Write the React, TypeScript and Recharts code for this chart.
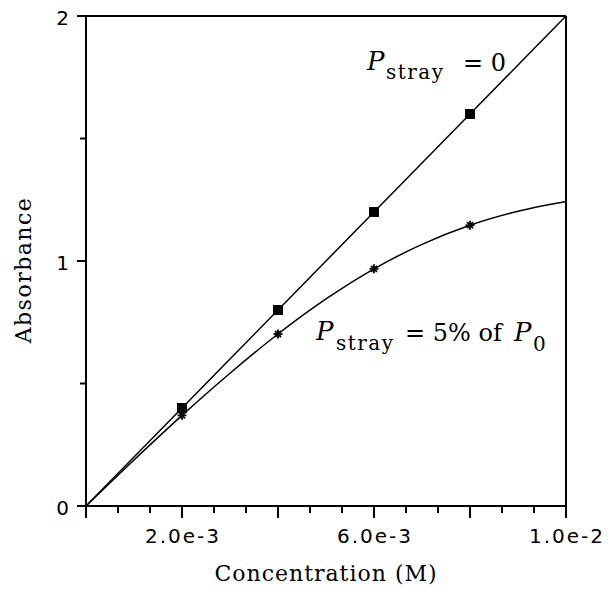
import React from "react";
import {
  ComposedChart,
  Line,
  Scatter,
  XAxis,
  YAxis,
  ReferenceLine,
  Label,
} from "recharts";

// Concentration (M) sampled along the curves
const concentration = [0, 0.001, 0.002, 0.003, 0.004, 0.005, 0.006, 0.007, 0.008, 0.009, 0.01];
// Absorbance with no stray light (Beer's law, straight line)
const absorbanceNoStray = [0, 0.2, 0.4, 0.6, 0.8, 1.0, 1.2, 1.4, 1.6, 1.8, 2.0];
// Absorbance with stray light = 5% of P0
const absorbanceStray = [0, 0.188, 0.37, 0.542, 0.702, 0.845, 0.968, 1.068, 1.146, 1.203, 1.243];

// Marked points
const markerConcentration = [0.002, 0.004, 0.006, 0.008];
const markerNoStray = [0.4, 0.8, 1.2, 1.6];
const markerStray = [0.37, 0.702, 0.968, 1.146];

// Axis ticks
const xTicks = [
  0, 0.000667, 0.001333, 0.002, 0.002667, 0.003333, 0.004, 0.004667, 0.005333, 0.006,
  0.006667, 0.007333, 0.008, 0.008667, 0.009333, 0.01,
];
const xTickValuesLabelled = [0.002, 0.006, 0.01];
const xTickLabels = ["2.0e-3", "6.0e-3", "1.0e-2"];
const yTicks = [0, 0.5, 1, 1.5, 2];
const yTickValuesLabelled = [0, 1, 2];
const yTickLabels = ["0", "1", "2"];

const tableData = concentration.map((c, i) => ({
  c,
  ideal: absorbanceNoStray[i],
  stray: absorbanceStray[i],
}));
const idealMarkers = markerConcentration.map((c, i) => ({ c, a: markerNoStray[i] }));
const strayMarkers = markerConcentration.map((c, i) => ({ c, a: markerStray[i] }));

const near = (a: number, b: number) => Math.abs(a - b) < 1e-5;

const tickFont = { fontFamily: "'DejaVu Sans', sans-serif", fontSize: 20, letterSpacing: 2 };
const serifFont = "'DejaVu Serif', serif";

function XTick(props: any) {
  const { x, y, payload } = props;
  const v = payload.value as number;
  const major = near(v / 0.002, Math.round(v / 0.002));
  const idx = xTickValuesLabelled.findIndex((t) => near(t, v));
  return (
    <g>
      <line x1={x} x2={x} y1={y} y2={y + (major ? 12 : 7)} stroke="#000" strokeWidth={2} />
      {idx >= 0 && (
        <text x={x + 1} y={y + 37} textAnchor="middle" fill="#000" style={tickFont}>
          {xTickLabels[idx]}
        </text>
      )}
    </g>
  );
}

function YTick(props: any) {
  const { x, y, payload } = props;
  const v = payload.value as number;
  const idx = yTickValuesLabelled.findIndex((t) => near(t, v));
  const major = idx >= 0;
  return (
    <g>
      <line x1={x - (major ? 9 : 6)} x2={x} y1={y} y2={y} stroke="#000" strokeWidth={2} />
      {major && (
        <text x={x - 17} y={y + 9} textAnchor="end" fill="#000" style={{ ...tickFont, letterSpacing: 0 }}>
          {yTickLabels[idx]}
        </text>
      )}
    </g>
  );
}

function SquareMarker(props: any) {
  const { cx, cy } = props;
  return <rect x={cx - 5} y={cy - 5} width={10} height={10} fill="#000" />;
}

function StarMarker(props: any) {
  const { cx, cy } = props;
  const r = 4.5;
  return (
    <g stroke="#000" strokeWidth={1.8}>
      <line x1={cx - r} x2={cx + r} y1={cy} y2={cy} />
      <line x1={cx} x2={cx} y1={cy - r} y2={cy + r} />
      <line x1={cx - 3} x2={cx + 3} y1={cy - 3} y2={cy + 3} />
      <line x1={cx - 3} x2={cx + 3} y1={cy + 3} y2={cy - 3} />
    </g>
  );
}

function XTitle(props: any) {
  const { viewBox } = props;
  const cx = viewBox.x + viewBox.width / 2;
  return (
    <text
      x={cx}
      y={viewBox.y + 75}
      textAnchor="middle"
      fill="#000"
      style={{ fontFamily: serifFont, fontSize: 22, letterSpacing: 1 }}
    >
      Concentration (M)
    </text>
  );
}

function YTitle(props: any) {
  const { viewBox } = props;
  const cy = viewBox.y + viewBox.height / 2 + 9;
  const cx = 31;
  return (
    <text
      x={cx}
      y={cy}
      textAnchor="middle"
      fill="#000"
      transform={`rotate(-90 ${cx} ${cy})`}
      style={{ fontFamily: serifFont, fontSize: 22, letterSpacing: 1.5 }}
    >
      Absorbance
    </text>
  );
}

export default function App() {
  return (
    <div style={{ position: "absolute", left: 0, top: 0, width: 608, height: 589, background: "#fff" }}>
      <ComposedChart
        width={608}
        height={589}
        data={tableData}
        margin={{ top: 16, right: 42, bottom: 0, left: 0 }}
      >
        <XAxis
          dataKey="c"
          type="number"
          domain={[0, 0.01]}
          ticks={xTicks}
          interval={0}
          height={83}
          tickSize={0}
          tickMargin={0}
          tickLine={false}
          axisLine={{ stroke: "#000", strokeWidth: 2 }}
          tick={<XTick />}
          allowDataOverflow
        >
          <Label content={<XTitle />} />
        </XAxis>
        <YAxis
          type="number"
          domain={[0, 2]}
          ticks={yTicks}
          interval={0}
          width={86}
          tickSize={0}
          tickMargin={0}
          tickLine={false}
          axisLine={{ stroke: "#000", strokeWidth: 2 }}
          tick={<YTick />}
          allowDataOverflow
        >
          <Label content={<YTitle />} />
        </YAxis>
        <ReferenceLine y={2} stroke="#000" strokeWidth={2} />
        <ReferenceLine x={0.01} stroke="#000" strokeWidth={2} />
        <Line
          type="linear"
          dataKey="ideal"
          stroke="#000"
          strokeWidth={1.5}
          dot={false}
          isAnimationActive={false}
        />
        <Line
          type="monotone"
          dataKey="stray"
          stroke="#000"
          strokeWidth={1.5}
          dot={false}
          isAnimationActive={false}
        />
        <Scatter data={idealMarkers} dataKey="a" shape={<SquareMarker />} isAnimationActive={false} />
        <Scatter data={strayMarkers} dataKey="a" shape={<StarMarker />} isAnimationActive={false} />
      </ComposedChart>
      <svg
        width={608}
        height={589}
        style={{ position: "absolute", left: 0, top: 0, pointerEvents: "none" }}
      >
        <text fill="#000" style={{ fontFamily: serifFont, fontSize: 24 }}>
          <tspan x={367} y={70} fontStyle="italic" fontSize={26}>P</tspan>
          <tspan x={386} y={79} fontSize={20} letterSpacing={1.5}>stray</tspan>
          <tspan x={463} y={71}>= 0</tspan>
        </text>
        <text fill="#000" style={{ fontFamily: serifFont, fontSize: 24 }}>
          <tspan x={316} y={340} fontStyle="italic" fontSize={26}>P</tspan>
          <tspan x={336} y={350} fontSize={20} letterSpacing={1.5}>stray</tspan>
          <tspan x={405} y={341}>= 5% of</tspan>
          <tspan x={514} y={341} fontStyle="italic" fontSize={26}>P</tspan>
          <tspan x={533} y={351} fontSize={20}>0</tspan>
        </text>
      </svg>
    </div>
  );
}
